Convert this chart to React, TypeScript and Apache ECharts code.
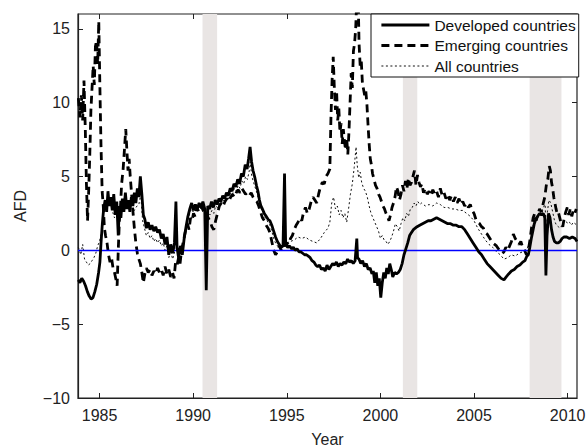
import React, { useEffect, useRef } from "react";
import * as echarts from "echarts";

const xTicks = [1985, 1990, 1995, 2000, 2005, 2010];
const yTicks = [-10, -5, 0, 5, 10, 15];
const recessions = [
  [1990.5, 1991.28],
  [2001.2, 2001.97],
  [2007.97, 2009.67],
];
const seriesNames = ["Developed countries", "Emerging countries", "All countries"];

const developed = [
  [1983.87, -2.0], [1983.95, -2.2], [1984.05, -1.9], [1984.15, -2.1], [1984.25, -2.4], [1984.35, -2.8],
  [1984.45, -3.1], [1984.55, -3.3], [1984.65, -3.2], [1984.75, -2.8], [1984.85, -2.3], [1984.95, -1.5],
  [1985.02, -0.8], [1985.08, 0.5], [1985.15, 1.8], [1985.22, 2.8], [1985.3, 3.4], [1985.38, 2.6],
  [1985.45, 4.0], [1985.52, 3.0], [1985.6, 3.6], [1985.68, 2.7], [1985.76, 3.8], [1985.84, 2.4],
  [1985.92, 3.3], [1986.0, 1.0], [1986.06, 3.0], [1986.14, 2.2], [1986.22, 3.5], [1986.3, 2.6],
  [1986.38, 3.9], [1986.46, 2.8], [1986.54, 3.4], [1986.62, 2.6], [1986.7, 3.6], [1986.78, 3.0],
  [1986.86, 3.9], [1986.94, 3.2], [1987.02, 4.2], [1987.1, 3.6], [1987.18, 5.0], [1987.26, 3.8],
  [1987.34, 2.4], [1987.42, 2.1], [1987.5, 1.5], [1987.6, 1.9], [1987.7, 1.4], [1987.8, 1.7],
  [1987.9, 1.3], [1988.0, 1.6], [1988.1, 1.2], [1988.2, 1.4], [1988.3, 0.8], [1988.4, 1.1],
  [1988.5, 0.4], [1988.6, 0.9], [1988.7, -0.3], [1988.8, 0.4], [1988.9, -0.2], [1989.0, 0.5],
  [1989.08, 3.3], [1989.14, 0.2], [1989.22, -0.5], [1989.32, 0.3], [1989.42, -0.3], [1989.52, 0.8],
  [1989.62, 1.6], [1989.72, 2.3], [1989.82, 2.8], [1989.92, 3.2], [1990.02, 2.7], [1990.12, 3.1],
  [1990.22, 2.8], [1990.32, 3.2], [1990.42, 2.9], [1990.52, 3.3], [1990.62, 2.8], [1990.7, -2.7],
  [1990.78, 3.0], [1990.88, 2.8], [1990.98, 3.3], [1991.08, 2.9], [1991.18, 3.4], [1991.28, 3.1],
  [1991.38, 3.5], [1991.48, 3.3], [1991.58, 3.7], [1991.68, 3.5], [1991.78, 3.9], [1991.88, 3.7],
  [1991.98, 4.2], [1992.08, 4.0], [1992.18, 4.5], [1992.28, 4.3], [1992.38, 4.8], [1992.48, 4.5],
  [1992.58, 5.2], [1992.68, 5.0], [1992.78, 5.8], [1992.88, 5.5], [1992.96, 6.2], [1993.04, 7.0],
  [1993.12, 6.0], [1993.2, 5.4], [1993.3, 4.9], [1993.38, 4.4], [1993.46, 4.0], [1993.54, 3.4],
  [1993.62, 3.0], [1993.7, 2.8], [1993.8, 2.5], [1993.9, 2.3], [1994.0, 2.1], [1994.1, 2.0],
  [1994.2, 1.7], [1994.3, 1.3], [1994.4, 0.9], [1994.5, 0.6], [1994.6, 0.4], [1994.7, 0.2],
  [1994.8, 0.3], [1994.88, 5.2], [1994.94, 0.4], [1995.05, 0.2], [1995.15, 0.3], [1995.25, 0.1],
  [1995.35, 0.2], [1995.45, 0.0], [1995.55, 0.1], [1995.65, -0.1], [1995.75, -0.1], [1995.85, -0.2],
  [1995.95, -0.3], [1996.05, -0.3], [1996.15, -0.4], [1996.25, -0.5], [1996.35, -0.7], [1996.45, -0.8],
  [1996.55, -1.0], [1996.65, -1.1], [1996.75, -1.0], [1996.85, -1.3], [1996.95, -1.2], [1997.05, -1.4],
  [1997.15, -1.0], [1997.25, -1.3], [1997.35, -1.1], [1997.45, -0.9], [1997.55, -1.0], [1997.65, -0.8],
  [1997.75, -1.1], [1997.85, -0.9], [1997.95, -1.0], [1998.05, -0.8], [1998.15, -0.9], [1998.25, -0.6],
  [1998.35, -0.8], [1998.45, -0.7], [1998.55, -0.9], [1998.65, -0.7], [1998.74, 0.8], [1998.78, -0.5],
  [1998.86, -0.6], [1998.95, -0.9], [1999.05, -0.7], [1999.15, -1.1], [1999.25, -0.9], [1999.35, -1.3],
  [1999.45, -1.2], [1999.55, -1.6], [1999.62, -1.4], [1999.7, -2.2], [1999.78, -1.5], [1999.86, -2.4],
  [1999.94, -1.9], [2000.02, -3.2], [2000.1, -2.2], [2000.18, -1.5], [2000.26, -1.9], [2000.34, -1.2],
  [2000.42, -1.6], [2000.5, -0.9], [2000.58, -1.3], [2000.66, -1.8], [2000.76, -1.5], [2000.86, -1.6],
  [2000.96, -1.5], [2001.06, -1.3], [2001.16, -0.9], [2001.26, -0.3], [2001.36, 0.1], [2001.46, 0.5],
  [2001.56, 1.0], [2001.66, 1.2], [2001.76, 1.4], [2001.86, 1.5], [2001.96, 1.6], [2002.1, 1.7],
  [2002.25, 1.8], [2002.4, 1.9], [2002.55, 2.0], [2002.7, 2.0], [2002.85, 2.1], [2003.0, 2.2],
  [2003.15, 2.1], [2003.3, 2.0], [2003.45, 1.9], [2003.6, 1.8], [2003.75, 1.8], [2003.9, 1.7],
  [2004.05, 1.7], [2004.2, 1.6], [2004.35, 1.6], [2004.5, 1.4], [2004.65, 1.1], [2004.8, 0.8],
  [2004.95, 0.5], [2005.1, 0.2], [2005.25, -0.1], [2005.4, -0.3], [2005.55, -0.6], [2005.7, -0.9],
  [2005.85, -1.1], [2006.0, -1.3], [2006.15, -1.5], [2006.3, -1.7], [2006.45, -1.9], [2006.6, -2.0],
  [2006.72, -1.8], [2006.85, -1.6], [2007.0, -1.4], [2007.15, -1.3], [2007.3, -1.1], [2007.45, -1.0],
  [2007.6, -0.8], [2007.72, -0.7], [2007.82, -0.4], [2007.9, -0.3], [2007.98, 0.2], [2008.06, 0.8],
  [2008.14, 1.3], [2008.22, 1.8], [2008.3, 2.1], [2008.4, 2.3], [2008.5, 2.5], [2008.6, 2.4],
  [2008.7, 2.5], [2008.78, 2.2], [2008.84, -1.7], [2008.9, 1.0], [2008.98, 2.5], [2009.06, 2.2],
  [2009.14, 1.4], [2009.22, 0.9], [2009.3, 0.6], [2009.4, 0.5], [2009.5, 0.5], [2009.6, 0.6],
  [2009.7, 0.8], [2009.8, 0.9], [2009.95, 0.9], [2010.1, 0.8], [2010.25, 0.9], [2010.4, 0.8],
  [2010.5, 0.6],
];

const emerging = [
  [1983.87, 10.3], [1983.95, 9.0], [1984.03, 10.5], [1984.1, 8.8], [1984.17, 11.5], [1984.24, 8.2],
  [1984.3, 4.5], [1984.36, 2.0], [1984.42, 4.0], [1984.48, 6.5], [1984.54, 9.5], [1984.6, 11.0],
  [1984.66, 12.5], [1984.72, 11.2], [1984.78, 13.8], [1984.84, 14.2], [1984.9, 12.6], [1984.96, 15.5],
  [1985.02, 11.0], [1985.08, 7.0], [1985.14, 4.0], [1985.2, 3.0], [1985.26, 1.5], [1985.32, 1.0],
  [1985.4, 0.5], [1985.48, -0.3], [1985.56, -0.8], [1985.64, -0.5], [1985.72, -1.2], [1985.8, -1.5],
  [1985.88, -2.0], [1985.94, -2.4], [1986.0, 0.0], [1986.06, 2.0], [1986.12, 3.0], [1986.18, 4.5],
  [1986.26, 5.5], [1986.34, 7.0], [1986.4, 8.2], [1986.46, 6.8], [1986.52, 5.4], [1986.58, 6.2],
  [1986.64, 5.0], [1986.7, 4.0], [1986.78, 2.7], [1986.86, 1.5], [1986.94, 0.5], [1987.02, -0.2],
  [1987.1, -0.6], [1987.18, -0.9], [1987.26, -1.5], [1987.34, -2.2], [1987.42, -1.6], [1987.5, -1.2],
  [1987.6, -1.5], [1987.7, -1.3], [1987.8, -1.7], [1987.9, -1.4], [1988.0, -1.6], [1988.1, -1.2],
  [1988.2, -1.5], [1988.3, -1.3], [1988.4, -1.7], [1988.5, -1.1], [1988.6, -1.6], [1988.7, -1.3],
  [1988.8, -1.8], [1988.9, -1.5], [1988.98, -1.9], [1989.06, -0.8], [1989.14, -1.0], [1989.22, -0.5],
  [1989.3, -0.9], [1989.38, 0.0], [1989.46, 0.5], [1989.54, 1.0], [1989.62, 1.5], [1989.7, 1.8],
  [1989.78, 1.4], [1989.86, 2.2], [1989.94, 2.0], [1990.02, 2.5], [1990.1, 2.3], [1990.2, 2.9],
  [1990.3, 2.6], [1990.4, 3.0], [1990.5, 2.8], [1990.6, 2.5], [1990.7, 2.6], [1990.8, 2.2],
  [1990.9, 2.0], [1991.0, 1.6], [1991.1, 1.4], [1991.2, 2.0], [1991.3, 2.5], [1991.4, 3.0],
  [1991.5, 3.2], [1991.6, 3.0], [1991.7, 3.3], [1991.8, 3.5], [1991.9, 3.3], [1992.0, 3.6],
  [1992.1, 3.8], [1992.2, 3.6], [1992.3, 3.9], [1992.4, 4.1], [1992.5, 3.9], [1992.6, 4.2],
  [1992.7, 4.0], [1992.8, 3.8], [1992.9, 3.9], [1993.0, 3.7], [1993.1, 3.9], [1993.2, 3.6],
  [1993.3, 3.4], [1993.4, 3.3], [1993.5, 3.0], [1993.6, 2.6], [1993.7, 2.2], [1993.8, 2.0],
  [1993.9, 1.7], [1994.0, 1.5], [1994.1, 1.2], [1994.2, 0.6], [1994.3, 0.0], [1994.4, -0.3],
  [1994.5, -0.1], [1994.6, 0.3], [1994.7, 0.0], [1994.8, 0.4], [1994.9, 0.3], [1995.0, 0.5],
  [1995.1, 0.4], [1995.2, 0.8], [1995.3, 1.0], [1995.4, 1.4], [1995.5, 1.7], [1995.6, 1.9],
  [1995.7, 2.2], [1995.8, 2.0], [1995.9, 2.6], [1996.0, 2.9], [1996.1, 2.5], [1996.2, 2.8],
  [1996.3, 3.3], [1996.4, 3.6], [1996.5, 3.4], [1996.6, 3.2], [1996.7, 3.8], [1996.8, 4.3],
  [1996.9, 4.6], [1997.0, 4.5], [1997.1, 5.0], [1997.2, 5.2], [1997.3, 5.5], [1997.36, 9.0],
  [1997.42, 11.5], [1997.48, 13.1], [1997.54, 11.0], [1997.6, 9.5], [1997.66, 10.8], [1997.72, 8.8],
  [1997.78, 9.6], [1997.84, 8.0], [1997.9, 8.6], [1997.96, 7.2], [1998.02, 8.2], [1998.08, 7.4],
  [1998.14, 6.8], [1998.2, 7.6], [1998.26, 6.5], [1998.32, 8.0], [1998.38, 10.0], [1998.44, 12.0],
  [1998.5, 11.0], [1998.56, 13.5], [1998.62, 14.0], [1998.68, 15.0], [1998.74, 17.0], [1998.8, 18.0],
  [1998.86, 14.0], [1998.92, 12.5], [1998.98, 12.8], [1999.04, 11.3], [1999.1, 10.9], [1999.16, 10.5],
  [1999.22, 10.8], [1999.28, 9.9], [1999.34, 8.5], [1999.4, 7.2], [1999.46, 6.2], [1999.52, 5.8],
  [1999.58, 5.2], [1999.66, 4.8], [1999.74, 4.4], [1999.82, 4.2], [1999.9, 3.8], [1999.98, 3.6],
  [2000.06, 3.3], [2000.14, 3.0], [2000.22, 2.8], [2000.3, 2.5], [2000.38, 2.3], [2000.46, 2.0],
  [2000.54, 2.4], [2000.62, 2.9], [2000.7, 3.2], [2000.78, 3.6], [2000.86, 4.3], [2000.94, 4.0],
  [2001.02, 3.4], [2001.1, 3.8], [2001.18, 4.4], [2001.26, 4.0], [2001.34, 4.7], [2001.42, 4.2],
  [2001.5, 4.9], [2001.58, 4.4], [2001.66, 4.6], [2001.74, 5.0], [2001.82, 5.4], [2001.9, 4.4],
  [2001.98, 5.1], [2002.06, 4.6], [2002.14, 4.3], [2002.22, 4.5], [2002.3, 3.9], [2002.4, 4.2],
  [2002.5, 3.8], [2002.6, 4.0], [2002.7, 3.7], [2002.8, 4.1], [2002.9, 3.8], [2003.0, 4.0],
  [2003.1, 3.6], [2003.2, 4.2], [2003.3, 3.7], [2003.4, 3.9], [2003.5, 3.5], [2003.6, 3.8],
  [2003.7, 3.4], [2003.8, 3.7], [2003.9, 3.3], [2004.0, 3.6], [2004.1, 3.2], [2004.2, 3.5],
  [2004.3, 3.1], [2004.4, 3.3], [2004.5, 3.0], [2004.6, 3.2], [2004.7, 2.9], [2004.8, 3.1],
  [2004.9, 2.7], [2005.0, 2.5], [2005.1, 2.1], [2005.2, 1.9], [2005.3, 1.8], [2005.4, 1.6],
  [2005.5, 1.5], [2005.6, 1.2], [2005.7, 1.1], [2005.8, 0.9], [2005.9, 0.7], [2006.0, 0.5],
  [2006.1, 0.4], [2006.2, 0.3], [2006.3, 0.1], [2006.4, 0.0], [2006.5, -0.2], [2006.6, -0.1],
  [2006.7, 0.2], [2006.8, 0.0], [2006.9, 0.3], [2007.0, 0.6], [2007.1, 1.1], [2007.2, 0.8],
  [2007.3, 0.6], [2007.4, 0.4], [2007.5, 0.6], [2007.6, 0.2], [2007.7, 0.0], [2007.8, -0.3],
  [2007.9, 0.0], [2008.0, 0.8], [2008.08, 1.6], [2008.16, 2.2], [2008.24, 2.5], [2008.32, 2.0],
  [2008.4, 2.4], [2008.5, 2.8], [2008.6, 2.6], [2008.7, 3.2], [2008.78, 3.6], [2008.86, 4.4],
  [2008.94, 4.8], [2009.02, 5.7], [2009.08, 5.4], [2009.14, 4.6], [2009.2, 4.2], [2009.26, 3.6],
  [2009.32, 3.2], [2009.38, 2.8], [2009.44, 2.5], [2009.5, 2.6], [2009.58, 2.2], [2009.66, 1.8],
  [2009.74, 1.6], [2009.82, 2.2], [2009.9, 2.6], [2009.98, 2.9], [2010.06, 2.4], [2010.14, 2.8],
  [2010.22, 2.3], [2010.3, 2.7], [2010.38, 2.5], [2010.46, 2.8],
];

const allCountries = [
  [1983.87, 0.2], [1984.0, -0.3], [1984.1, 0.4], [1984.2, -0.6], [1984.3, -0.8], [1984.4, -1.0],
  [1984.5, -0.9], [1984.6, -0.7], [1984.7, -0.5], [1984.8, -0.2], [1984.9, 0.3], [1985.0, 0.6],
  [1985.1, 1.2], [1985.2, 2.4], [1985.3, 3.2], [1985.4, 2.8], [1985.5, 3.6], [1985.6, 3.0],
  [1985.7, 2.6], [1985.8, 2.2], [1985.9, 2.8], [1986.0, 1.5], [1986.1, 2.6], [1986.2, 2.9],
  [1986.3, 3.4], [1986.4, 3.8], [1986.5, 3.0], [1986.6, 2.8], [1986.7, 3.3], [1986.8, 2.6],
  [1986.9, 2.8], [1987.0, 3.0], [1987.1, 3.1], [1987.2, 3.8], [1987.3, 2.0], [1987.4, 1.5],
  [1987.5, 1.0], [1987.6, 1.2], [1987.7, 0.8], [1987.8, 1.0], [1987.9, 0.6], [1988.0, 0.8],
  [1988.1, 0.5], [1988.2, 0.7], [1988.3, 0.3], [1988.4, 0.5], [1988.5, 0.0], [1988.6, 0.3],
  [1988.7, -0.5], [1988.8, 0.0], [1988.9, -0.6], [1989.0, -0.2], [1989.1, 1.5], [1989.2, -0.3],
  [1989.3, 0.0], [1989.4, -0.2], [1989.5, 0.6], [1989.6, 1.4], [1989.7, 2.0], [1989.8, 2.4],
  [1989.9, 2.8], [1990.0, 2.6], [1990.1, 2.9], [1990.2, 2.7], [1990.3, 3.0], [1990.4, 2.8],
  [1990.5, 3.1], [1990.6, 2.7], [1990.7, -1.0], [1990.78, 2.6], [1990.9, 2.4], [1991.0, 2.7],
  [1991.1, 2.5], [1991.2, 3.0], [1991.3, 2.9], [1991.4, 3.2], [1991.5, 3.1], [1991.6, 3.4],
  [1991.7, 3.3], [1991.8, 3.6], [1991.9, 3.5], [1992.0, 3.9], [1992.1, 3.8], [1992.2, 4.2],
  [1992.3, 4.0], [1992.4, 4.4], [1992.5, 4.2], [1992.6, 4.7], [1992.7, 4.5], [1992.8, 5.0],
  [1992.9, 4.8], [1993.0, 5.4], [1993.05, 6.0], [1993.12, 5.1], [1993.2, 4.7], [1993.3, 4.3],
  [1993.4, 3.9], [1993.5, 3.4], [1993.6, 2.9], [1993.7, 2.6], [1993.8, 2.3], [1993.9, 2.1],
  [1994.0, 1.9], [1994.1, 1.7], [1994.2, 1.3], [1994.3, 0.8], [1994.4, 0.5], [1994.5, 0.3],
  [1994.6, 0.4], [1994.7, 0.2], [1994.8, 0.4], [1994.88, 3.5], [1994.94, 0.4], [1995.0, 0.5],
  [1995.2, 0.6], [1995.4, 0.7], [1995.6, 0.9], [1995.8, 0.8], [1996.0, 0.9], [1996.2, 0.7],
  [1996.4, 0.6], [1996.6, 0.5], [1996.8, 0.8], [1997.0, 1.2], [1997.2, 1.5], [1997.3, 1.9],
  [1997.4, 3.2], [1997.5, 3.6], [1997.6, 2.8], [1997.7, 3.0], [1997.8, 2.4], [1997.9, 2.7],
  [1998.0, 2.2], [1998.1, 2.5], [1998.2, 1.9], [1998.3, 2.8], [1998.4, 3.8], [1998.5, 4.5],
  [1998.6, 5.6], [1998.7, 7.0], [1998.76, 5.8], [1998.84, 4.9], [1998.92, 5.3], [1999.0, 4.6],
  [1999.1, 4.2], [1999.2, 4.0], [1999.3, 3.6], [1999.4, 3.0], [1999.5, 2.5], [1999.6, 2.2],
  [1999.7, 1.9], [1999.8, 1.6], [1999.9, 1.3], [2000.0, 0.8], [2000.1, 1.0], [2000.2, 0.7],
  [2000.3, 0.6], [2000.4, 0.4], [2000.5, 0.6], [2000.6, 0.9], [2000.7, 1.3], [2000.8, 1.8],
  [2000.9, 1.6], [2001.0, 1.3], [2001.1, 1.8], [2001.2, 2.2], [2001.3, 2.0], [2001.4, 2.5],
  [2001.5, 2.3], [2001.6, 2.8], [2001.7, 2.9], [2001.8, 3.2], [2001.9, 3.0], [2002.0, 3.3],
  [2002.1, 3.1], [2002.2, 3.2], [2002.4, 3.0], [2002.6, 3.1], [2002.8, 3.0], [2003.0, 3.2],
  [2003.2, 3.1], [2003.4, 2.9], [2003.6, 2.9], [2003.8, 2.8], [2004.0, 2.8], [2004.2, 2.7],
  [2004.4, 2.7], [2004.6, 2.5], [2004.8, 2.3], [2005.0, 2.0], [2005.2, 1.5], [2005.4, 1.1],
  [2005.6, 0.7], [2005.8, 0.4], [2006.0, 0.2], [2006.2, -0.1], [2006.4, -0.3], [2006.6, -0.6],
  [2006.8, -0.5], [2007.0, -0.3], [2007.2, -0.4], [2007.4, -0.2], [2007.6, -0.1], [2007.8, 0.0],
  [2008.0, 0.6], [2008.1, 1.4], [2008.2, 1.9], [2008.3, 2.1], [2008.4, 2.3], [2008.5, 2.5],
  [2008.6, 2.6], [2008.7, 2.9], [2008.8, 3.1], [2008.86, 0.5], [2008.92, 2.6], [2009.0, 3.4],
  [2009.1, 3.2], [2009.2, 2.6], [2009.3, 2.0], [2009.4, 1.7], [2009.5, 1.6], [2009.6, 1.5],
  [2009.7, 1.7], [2009.8, 1.9], [2009.9, 2.0], [2010.0, 1.8], [2010.1, 1.9], [2010.2, 1.7],
  [2010.3, 1.9], [2010.4, 1.8], [2010.5, 1.7],
];

const FONT = "'Liberation Sans', Arial, Helvetica, sans-serif";
const X_MIN = 1983.85;
const X_MAX = 2010.5;
const Y_MIN = -10;
const Y_MAX = 16;

const fmt = (v: number) => String(v).replace("-", "\u2212");

export default function App() {
  const ref = useRef<HTMLDivElement>(null);

  useEffect(() => {
    if (!ref.current) return;
    const chart = echarts.init(ref.current, null, { renderer: "svg" });
    const tickStyle = { show: true, inside: true, length: 5, lineStyle: { color: "#222" } };
    const mainLine = { show: true, onZero: false, lineStyle: { color: "#222", width: 1.2 } };
    const hiddenLine = { show: false, onZero: false };
    const option: any = {
      animation: false,
      backgroundColor: "#fff",
      textStyle: { fontFamily: FONT },
      grid: {
        left: 78, right: 10, top: 14, bottom: 50, containLabel: false,
        outerBoundsMode: "none",
        show: true, borderColor: "#222", borderWidth: 1.2, backgroundColor: "transparent",
      },
      legend: {
        data: seriesNames,
        orient: "vertical",
        left: 371,
        top: 14,
        padding: [3, 3, 3, 9],
        itemGap: 4.5,
        itemWidth: 48,
        itemHeight: 14,
        borderColor: "#111",
        borderWidth: 1,
        borderRadius: 0,
        backgroundColor: "#fff",
        selectedMode: false,
        itemStyle: { color: "rgba(0,0,0,0)", borderWidth: 0, opacity: 0 },
        lineStyle: { width: "inherit" },
        textStyle: { fontFamily: FONT, fontSize: 15.5, color: "#111" },
      },
      xAxis: [
        {
          type: "value",
          min: X_MIN,
          max: X_MAX,
          name: "Year",
          nameLocation: "middle",
          nameGap: 33,
          nameTextStyle: { fontFamily: FONT, fontSize: 16, color: "#222" },
          axisLine: mainLine,
          axisTick: { ...tickStyle, customValues: xTicks },
          axisLabel: { show: true, customValues: xTicks, margin: 9, fontFamily: FONT, fontSize: 16, color: "#222", formatter: (v: number) => fmt(v) },
          splitLine: { show: false },
        },
        {
          type: "value",
          position: "top",
          min: X_MIN,
          max: X_MAX,
          axisLine: hiddenLine,
          axisTick: { ...tickStyle, customValues: xTicks },
          axisLabel: { show: false },
          splitLine: { show: false },
        },
      ],
      yAxis: [
        {
          type: "value",
          min: Y_MIN,
          max: Y_MAX,
          name: "AFD",
          nameLocation: "middle",
          nameGap: 50,
          nameTextStyle: { fontFamily: FONT, fontSize: 16, color: "#222" },
          axisLine: mainLine,
          axisTick: { ...tickStyle, customValues: yTicks },
          axisLabel: { show: true, customValues: yTicks, margin: 8, fontFamily: FONT, fontSize: 16, color: "#222", formatter: (v: number) => fmt(v) },
          splitLine: { show: false },
        },
        {
          type: "value",
          position: "right",
          min: Y_MIN,
          max: Y_MAX,
          axisLine: hiddenLine,
          axisTick: { ...tickStyle, customValues: yTicks },
          axisLabel: { show: false },
          splitLine: { show: false },
        },
      ],
      series: [
        {
          name: "recessions",
          type: "line",
          data: [],
          z: 1,
          silent: true,
          markArea: {
            silent: true,
            itemStyle: { color: "#e9e5e4" },
            data: recessions.map(([a, b]) => [{ xAxis: a }, { xAxis: b }]),
          },
        },
        {
          name: seriesNames[2],
          type: "line",
          data: allCountries,
          showSymbol: false,
          symbol: "none",
          z: 3,
          clip: true,
          lineStyle: { color: "#111", width: 1, type: [2, 2.5] },
          itemStyle: { color: "#111" },
          markLine: {
            silent: true,
            symbol: ["none", "none"],
            label: { show: false },
            lineStyle: { color: "#0000ff", width: 1.3, type: "solid", opacity: 1 },
            data: [{ yAxis: 0 }],
          },
        },
        {
          name: seriesNames[1],
          type: "line",
          data: emerging,
          showSymbol: false,
          symbol: "none",
          z: 4,
          clip: true,
          lineStyle: { color: "#000", width: 2.8, type: [8, 5] },
          itemStyle: { color: "#000" },
        },
        {
          name: seriesNames[0],
          type: "line",
          data: developed,
          showSymbol: false,
          symbol: "none",
          z: 5,
          clip: true,
          lineStyle: { color: "#000", width: 2.8, type: "solid" },
          itemStyle: { color: "#000" },
        },
      ],
    };
    chart.setOption(option);
    return () => chart.dispose();
  }, []);

  return <div ref={ref} style={{ width: 587, height: 448, position: "absolute", left: 0, top: 0 }} />;
}
